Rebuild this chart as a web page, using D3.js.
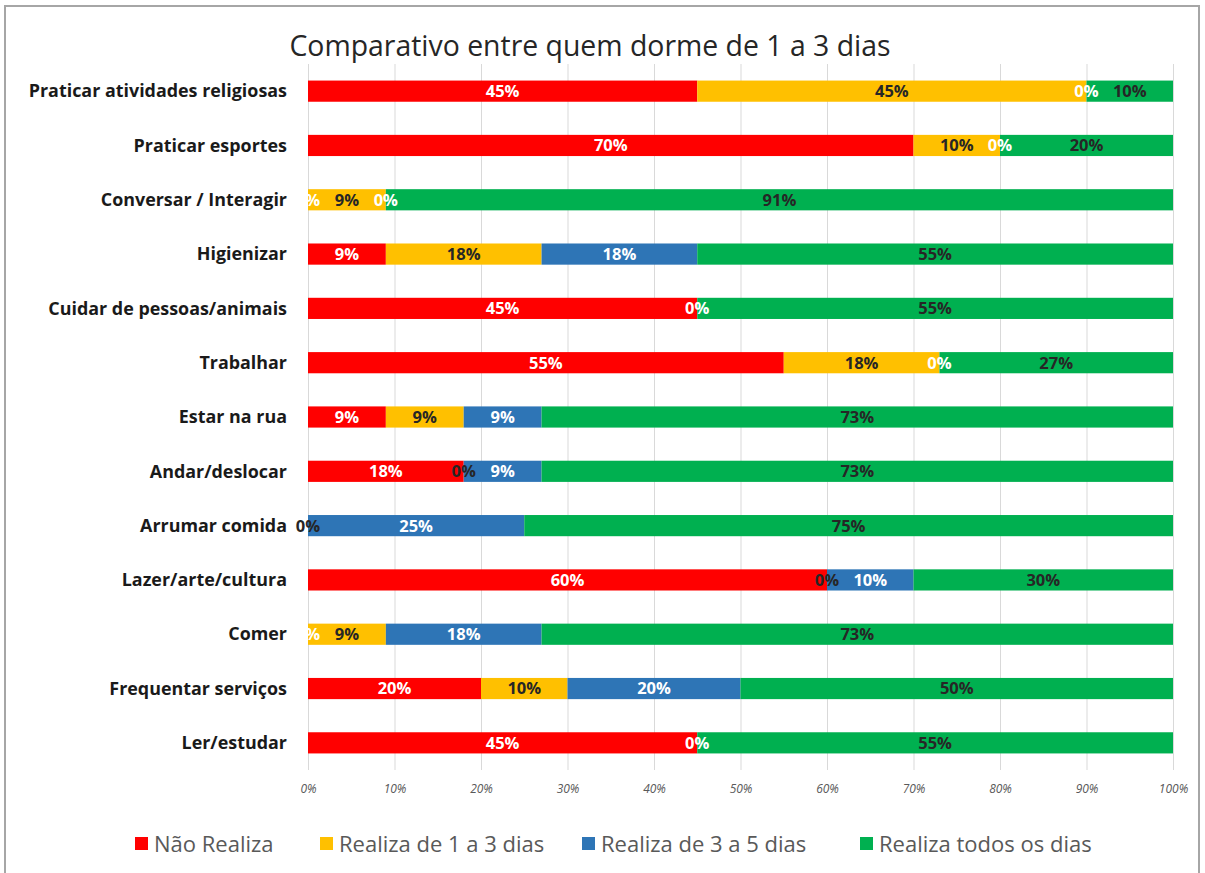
<!DOCTYPE html>
<html><head><meta charset="utf-8">
<script src="https://cdn.jsdelivr.net/npm/d3@7"></script>
<style>
body{margin:0;background:#fff;}
svg{display:block;}
</style></head>
<body>
<script>
const title = "Comparativo entre quem dorme de 1 a 3 dias";
const categories = ["Praticar atividades religiosas","Praticar esportes","Conversar / Interagir","Higienizar","Cuidar de pessoas/animais","Trabalhar","Estar na rua","Andar/deslocar","Arrumar comida","Lazer/arte/cultura","Comer","Frequentar serviços","Ler/estudar"];
const seriesNames = ["Não Realiza","Realiza de 1 a 3 dias","Realiza de 3 a 5 dias","Realiza todos os dias"];
const naoRealiza   = [45, 70, 0, 9, 45, 55, 9, 18, null, 60, 0, 20, 45];
const realiza1a3   = [45, 10, 9, 18, null, 18, 9, 0, 0, 0, 9, 10, null];
const realiza3a5   = [0, 0, 0, 18, 0, 0, 9, 9, 25, 10, 18, 20, 0];
const realizaTodos = [10, 20, 91, 55, 55, 27, 73, 73, 75, 30, 73, 50, 55];
const tickValues = [0,10,20,30,40,50,60,70,80,90,100];

const colors = ["#FF0000","#FFC000","#2E75B6","#00B050"];
const labelColors = ["#ffffff","#262626","#ffffff","#262626"];
const seriesData = [naoRealiza, realiza1a3, realiza3a5, realizaTodos];

const W = 1205, H = 873;
const svg = d3.select("body").append("svg").attr("width", W).attr("height", H);

svg.append("rect").attr("x",5).attr("y",6).attr("width",1194).attr("height",880)
  .attr("fill","#fff").attr("stroke","#a6a6a6").attr("stroke-width",2);

const x = d3.scaleLinear().domain([0,100]).range([308,1173]);
const y = d3.scaleBand().domain(categories).range([64,770]).paddingInner(0.61).paddingOuter(0.305);

svg.append("text").attr("x",590).attr("y",56).attr("text-anchor","middle")
  .attr("font-family","'Open Sans', sans-serif").attr("font-size",28.4).attr("fill","#262626")
  .text(title);

// gridlines
const grid = svg.append("g");
grid.selectAll("line").data(tickValues).join("line")
  .attr("x1",d=>x(d)+0.5).attr("x2",d=>x(d)+0.5).attr("y1",64).attr("y2",770)
  .attr("stroke","#d9d9d9").attr("stroke-width",1);

// axis
const axis = d3.axisBottom(x).tickValues(tickValues).tickFormat(d=>d+"%").tickSize(0).tickPadding(14);
const ag = svg.append("g").attr("transform","translate(0,770)").call(axis);
ag.select(".domain").remove();
ag.selectAll("text").attr("font-family","'Open Sans', sans-serif").attr("font-style","italic")
  .attr("font-size",12).attr("fill","#595959");

// stacks
const rows = categories.map((c,i)=>{
  let acc = 0;
  return seriesData.map((s,k)=>{
    const v = s[i];
    const x0 = acc; acc += (v||0);
    return {cat:c, k, v, x0, x1:acc};
  });
});
const segs = rows.flat().filter(d=>d.v!==null);

svg.append("g").selectAll("rect").data(segs).join("rect")
  .attr("x",d=>x(d.x0)).attr("width",d=>x(d.x1)-x(d.x0))
  .attr("y",d=>y(d.cat)).attr("height",y.bandwidth())
  .attr("fill",d=>colors[d.k]);

// category labels
svg.append("g").selectAll("text").data(categories).join("text")
  .attr("x",287).attr("y",d=>y(d)+y.bandwidth()/2).attr("dy","0.35em")
  .attr("text-anchor","end").attr("font-family","'Open Sans', sans-serif").attr("font-weight","bold")
  .attr("font-size",17.9).attr("fill","#1a1a1a").text(d=>d);

// data labels
svg.append("g").selectAll("text").data(segs).join("text")
  .attr("x",d=>(x(d.x0)+x(d.x1))/2).attr("y",d=>y(d.cat)+y.bandwidth()/2).attr("dy","0.36em")
  .attr("text-anchor","middle").attr("font-family","'Open Sans', sans-serif").attr("font-weight","bold")
  .attr("font-size",16.5).attr("fill",d=>labelColors[d.k]).text(d=>d.v+"%");

// legend
const legX = [135, 320, 582, 860];
const lg = svg.append("g").selectAll("g").data(seriesNames).join("g")
  .attr("transform",(d,i)=>`translate(${legX[i]},844)`);
lg.append("rect").attr("x",0).attr("y",-7).attr("width",13).attr("height",13).attr("fill",(d,i)=>colors[i]);
lg.append("text").attr("x",19).attr("y",0).attr("dy","0.35em")
  .attr("font-family","'Open Sans', sans-serif").attr("font-size",22).attr("fill","#595959").text(d=>d);
</script>
</body></html>
